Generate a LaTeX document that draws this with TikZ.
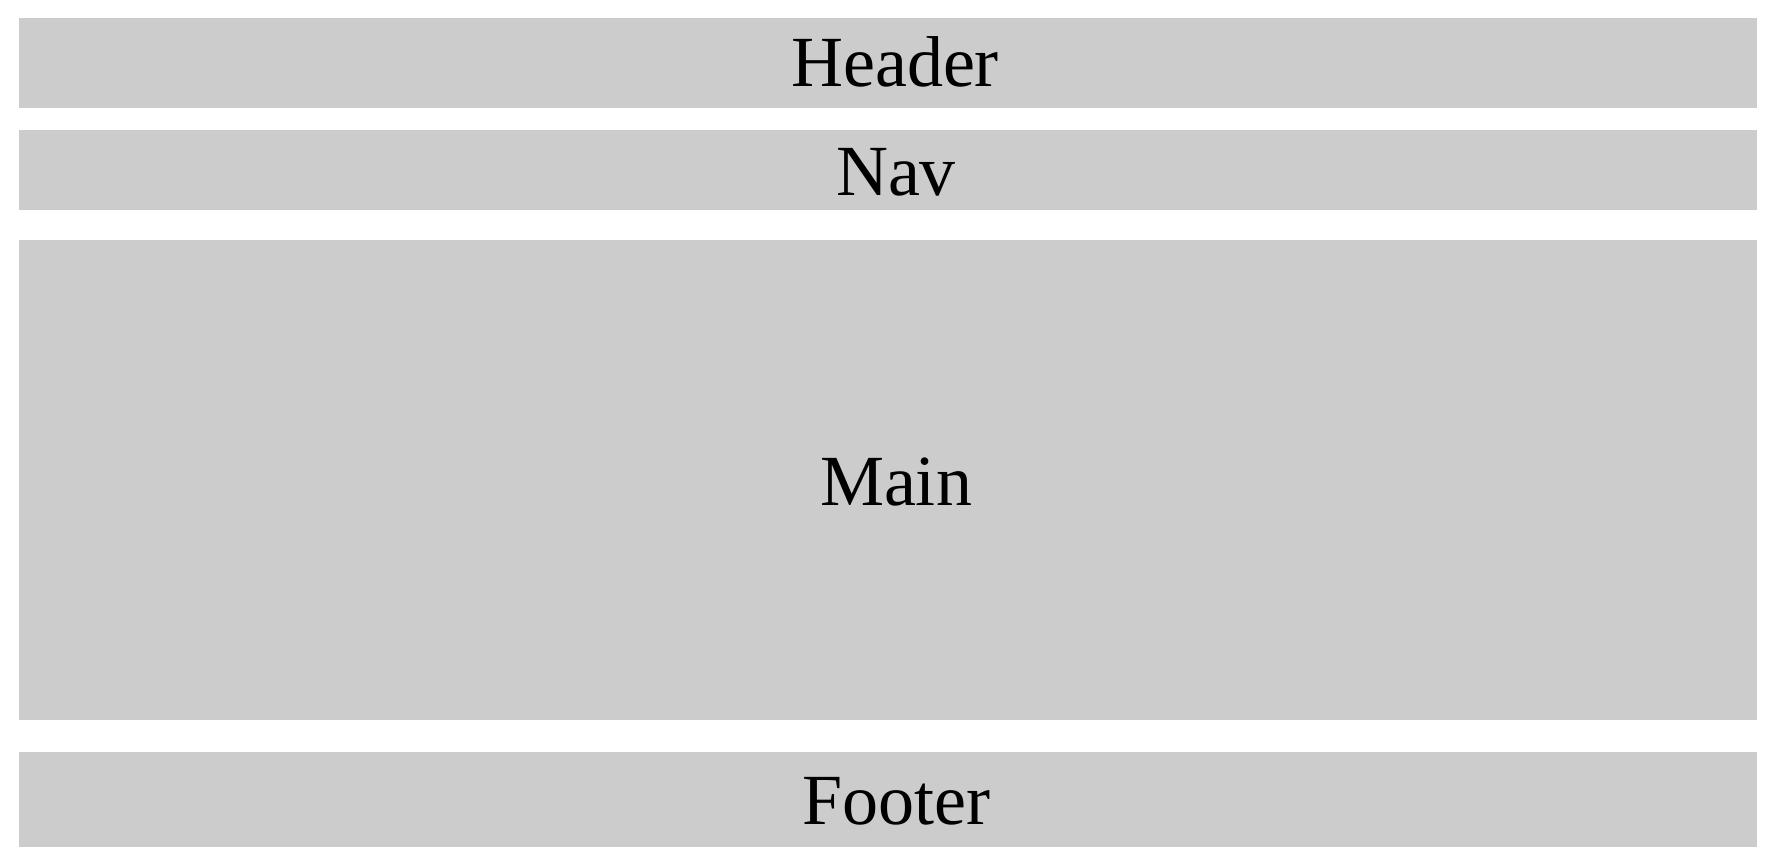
\documentclass[tikz,border=0pt]{standalone}
\usepackage{fontspec}
\setmainfont{Liberation Serif}
\definecolor{boxgray}{HTML}{CCCCCC}
\begin{document}
\begin{tikzpicture}[x=1pt,y=-1pt,
  region/.style={fill=boxgray,draw=none},
  label/.style={anchor=base,inner sep=0pt,font=\fontsize{72}{80}\selectfont}]
\useasboundingbox (0,0) rectangle (1790,857);
\fill[white] (0,0) rectangle (1790,857);
\path[region] (19,18) rectangle (1757,108) coordinate (hb);
\path[region] (19,130) rectangle (1757,210);
\path[region] (19,240) rectangle (1757,720);
\path[region] (19,752) rectangle (1757,847);
\node[label] (header) at (895,86) {Header};
\node[label] (nav) at (896,195) {Nav};
\node[label] (main) at (896,505) {Main};
\node[label] (footer) at (896,824) {Footer};
\end{tikzpicture}
\end{document}
